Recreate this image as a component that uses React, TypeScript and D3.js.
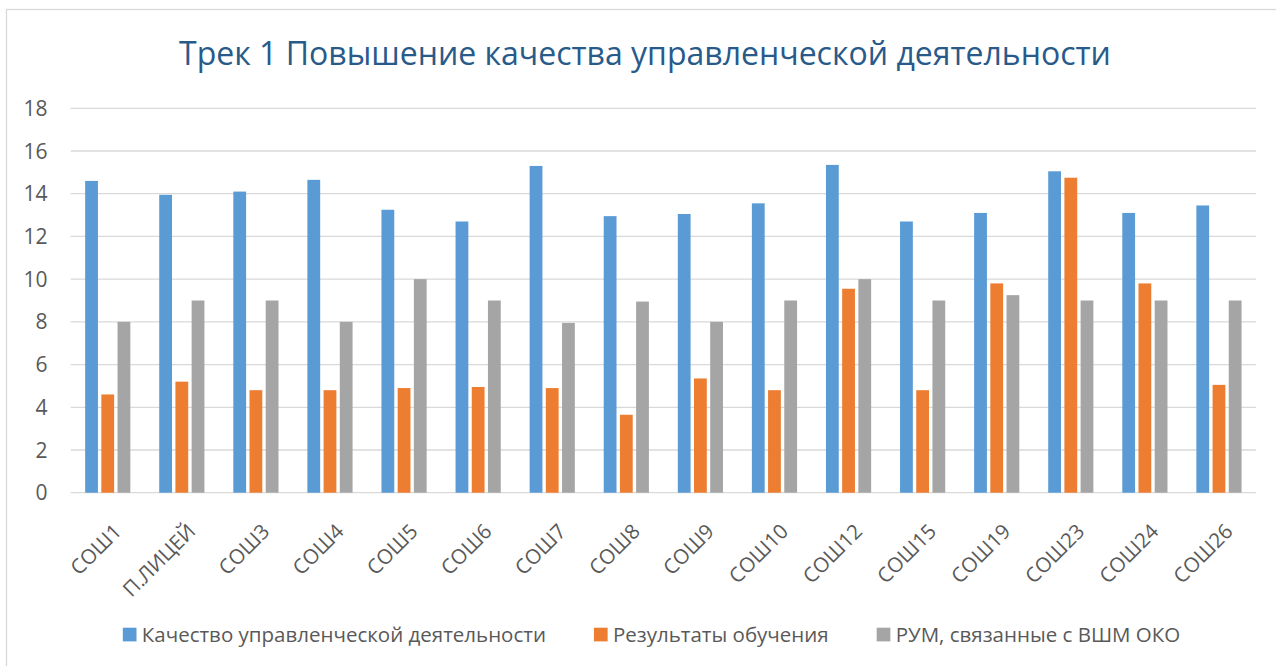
import React, { useRef, useEffect } from "react";
import * as d3 from "d3";

const categories = [
  "СОШ1", "П.ЛИЦЕЙ", "СОШ3", "СОШ4", "СОШ5", "СОШ6", "СОШ7", "СОШ8",
  "СОШ9", "СОШ10", "СОШ12", "СОШ15", "СОШ19", "СОШ23", "СОШ24", "СОШ26",
];

const seriesNames = [
  "Качество управленческой деятельности",
  "Результаты обучения",
  "РУМ, связанные с ВШМ ОКО",
];

const management = [14.6, 13.95, 14.1, 14.65, 13.25, 12.7, 15.3, 12.95, 13.05, 13.55, 15.35, 12.7, 13.1, 15.05, 13.1, 13.45];
const learning = [4.6, 5.2, 4.8, 4.8, 4.9, 4.95, 4.9, 3.65, 5.35, 4.8, 9.55, 4.8, 9.8, 14.75, 9.8, 5.05];
const rum = [8, 9, 9, 8, 10, 9, 7.95, 8.95, 8, 9, 10, 9, 9.25, 9, 9, 9];

const yTicks = [0, 2, 4, 6, 8, 10, 12, 14, 16, 18];
const colors = ["#5B9BD5", "#ED7D31", "#A5A5A5"];
const title = "Трек 1 Повышение качества управленческой деятельности";

const W = 1276;
const H = 666;
const FONT = "'Open Sans', 'Noto Sans', sans-serif";

export default function App() {
  const svgRef = useRef<SVGSVGElement>(null);

  useEffect(() => {
    if (!svgRef.current) return;
    const svg = d3.select(svgRef.current);
    svg.selectAll("*").remove();

    const plot = { left: 70.7, right: 1256, top: 108.3, bottom: 492.7 };
    const series = [management, learning, rum];

    // рамка области диаграммы
    svg.append("rect")
      .attr("x", 6.5).attr("y", 9.5)
      .attr("width", W + 20).attr("height", H + 20)
      .attr("fill", "#fff").attr("stroke", "#D9D9D9").attr("stroke-width", 1.3);

    svg.append("text")
      .attr("x", 645).attr("y", 65)
      .attr("text-anchor", "middle")
      .attr("font-family", FONT).attr("font-size", 32)
      .attr("fill", "#285A8A")
      .text(title);

    const x = d3.scaleBand<string>()
      .domain(categories)
      .range([plot.left, plot.right])
      .paddingInner(0.39)
      .paddingOuter(0.195);

    const xs = d3.scaleBand<number>()
      .domain([0, 1, 2])
      .range([0, x.bandwidth()])
      .paddingInner(0.21);

    const y = d3.scaleLinear().domain([0, 18]).range([plot.bottom, plot.top]);

    // сетка
    svg.append("g").selectAll("line")
      .data(yTicks)
      .join("line")
      .attr("x1", plot.left).attr("x2", plot.right)
      .attr("y1", (d) => y(d)).attr("y2", (d) => y(d))
      .attr("stroke", "#D9D9D9").attr("stroke-width", 1.3);

    svg.append("g").selectAll("text")
      .data(yTicks)
      .join("text")
      .attr("x", 47.5).attr("y", (d) => y(d))
      .attr("dy", "0.36em")
      .attr("text-anchor", "end")
      .attr("font-family", FONT).attr("font-size", 21)
      .attr("fill", "#595959")
      .text((d) => d);

    // столбцы
    series.forEach((vals, si) => {
      svg.append("g").selectAll("rect")
        .data(vals)
        .join("rect")
        .attr("x", (_, i) => (x(categories[i]) ?? 0) + (xs(si) ?? 0))
        .attr("y", (d) => y(d))
        .attr("width", xs.bandwidth())
        .attr("height", (d) => y(0) - y(d))
        .attr("fill", colors[si]);
    });

    // подписи категорий
    svg.append("g").selectAll("text")
      .data(categories)
      .join("text")
      .attr("transform", (d) => {
        const cx = (x(d) ?? 0) + x.bandwidth() / 2;
        return `translate(${cx + 15},${y(0) + 40}) rotate(-45)`;
      })
      .attr("text-anchor", "end")
      .attr("font-family", FONT).attr("font-size", 20.5)
      .attr("fill", "#595959")
      .text((d) => d);

    // легенда
    const legend = svg.append("g");
    const items = seriesNames.map((name, i) => {
      const g = legend.append("g");
      g.append("rect")
        .attr("x", 0).attr("y", -14)
        .attr("width", 13.7).attr("height", 13.7)
        .attr("fill", colors[i]);
      const t = g.append("text")
        .attr("x", 19).attr("y", 0)
        .attr("font-family", FONT).attr("font-size", 20.5)
        .attr("fill", "#595959")
        .text(name);
      const w = 19 + (t.node()?.getComputedTextLength() ?? 0);
      return { g, w };
    });
    const gap = 48;
    const total = d3.sum(items, (d) => d.w) + gap * (items.length - 1);
    let cur = 651.5 - total / 2;
    items.forEach((it) => {
      it.g.attr("transform", `translate(${cur},${641.7})`);
      cur += it.w + gap;
    });
  }, []);

  return (
    <svg
      ref={svgRef}
      width={W}
      height={H}
      style={{ position: "absolute", left: 0, top: 0, background: "#fff" }}
    />
  );
}
